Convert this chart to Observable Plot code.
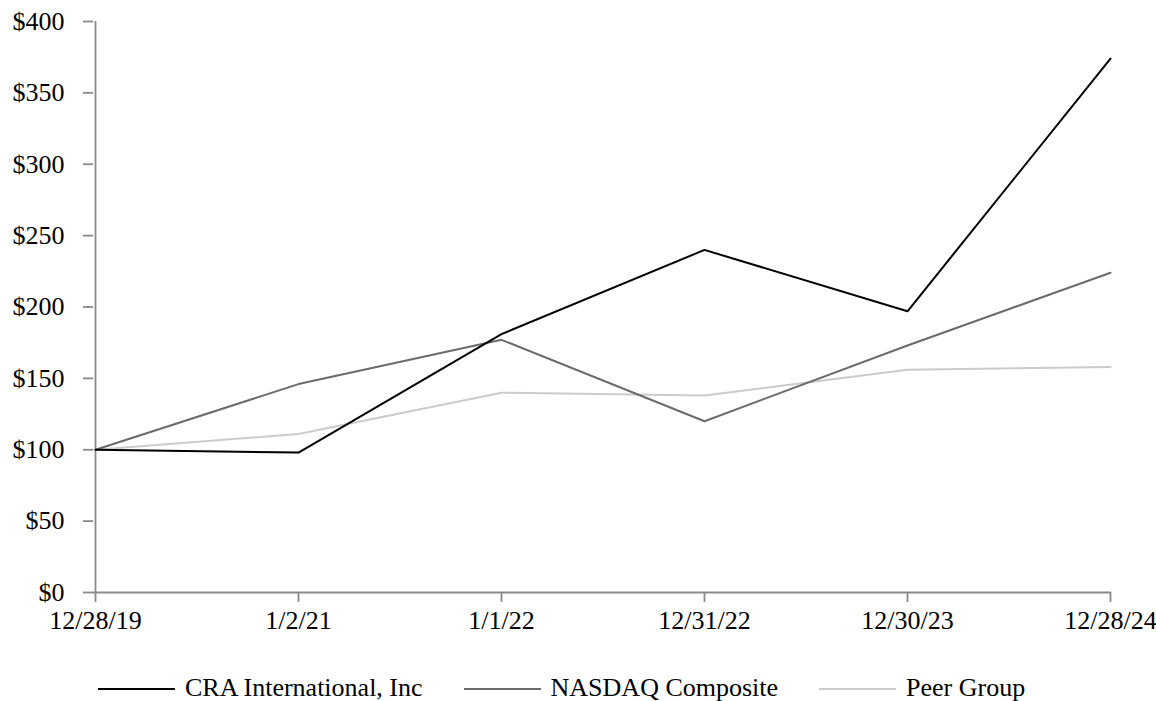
<!DOCTYPE html>
<html>
<head>
<meta charset="utf-8">
<script src="https://cdn.jsdelivr.net/npm/d3@7"></script>
<script src="https://cdn.jsdelivr.net/npm/@observablehq/plot@0.6"></script>
<style>
  html, body { margin: 0; padding: 0; background: #fff; }
  #wrap { position: relative; width: 1156px; height: 701px; font-family: "Liberation Serif", "Times New Roman", serif; }
  #legend { position: absolute; left: 98px; top: 673px; font-size: 26px; line-height: 30px; white-space: nowrap; color: #000; }
  #legend .item { display: inline-block; margin-right: 41px; }
  #legend .sw { display: inline-block; width: 77px; height: 2px; vertical-align: middle; margin-right: 10px; position: relative; top: -1px; }
</style>
</head>
<body>
<div id="wrap">
  <div id="chart"></div>
  <div id="legend"></div>
</div>
<script>
const dates = ["12/28/19", "1/2/21", "1/1/22", "12/31/22", "12/30/23", "12/28/24"];
const craValues = [100, 98, 181, 240, 197, 374];
const nasdaqValues = [100, 146, 177, 120, 173, 224];
const peerValues = [100, 111, 140, 138, 156, 158];
const seriesNames = ["CRA International, Inc", "NASDAQ Composite", "Peer Group"];
const seriesColors = ["#000000", "#6b6b6b", "#cbcbcb"];
const yTicks = [0, 50, 100, 150, 200, 250, 300, 350, 400];

const seriesValues = [craValues, nasdaqValues, peerValues];
const rows = seriesNames.flatMap((name, i) =>
  dates.map((d, j) => ({ series: name, date: d, value: seriesValues[i][j] }))
);
// draw lighter lines first so CRA sits on top
const drawOrder = [2, 1, 0];

const axisColor = "#8a8a8a";

const plot = Plot.plot({
  width: 1156,
  height: 640,
  marginLeft: 93,
  marginRight: 45,
  marginTop: 21,
  marginBottom: 48,
  style: { fontFamily: "'Liberation Serif', 'Times New Roman', serif", fontSize: "26px", color: "#000", background: "#fff", overflow: "visible" },
  x: { type: "point", domain: dates, padding: 0, label: null },
  y: { domain: [0, 400], label: null },
  color: { domain: seriesNames, range: seriesColors },
  marks: [
    Plot.ruleY([0], { stroke: axisColor, strokeWidth: 1.8 }),
    Plot.ruleX([dates[0]], { y1: 0, y2: 400, stroke: axisColor, strokeWidth: 1.8 }),
    Plot.axisX({ ticks: dates, tickSize: 10, tickPadding: 8, stroke: axisColor, strokeWidth: 1.8, fill: "#000", label: null }),
    Plot.axisY({ ticks: yTicks, tickSize: 10, tickPadding: 19, stroke: axisColor, strokeWidth: 1.8, fill: "#000", tickFormat: d => "$" + d, label: null }),
    ...drawOrder.map(i =>
      Plot.line(rows.filter(r => r.series === seriesNames[i]), {
        x: "date", y: "value", stroke: "series", strokeWidth: 2, curve: "linear"
      })
    )
  ]
});
document.getElementById("chart").appendChild(plot);

const legend = document.getElementById("legend");
seriesNames.forEach((name, i) => {
  const item = document.createElement("span");
  item.className = "item";
  const sw = document.createElement("span");
  sw.className = "sw";
  sw.style.background = seriesColors[i];
  item.appendChild(sw);
  item.appendChild(document.createTextNode(name));
  legend.appendChild(item);
});
</script>
</body>
</html>
